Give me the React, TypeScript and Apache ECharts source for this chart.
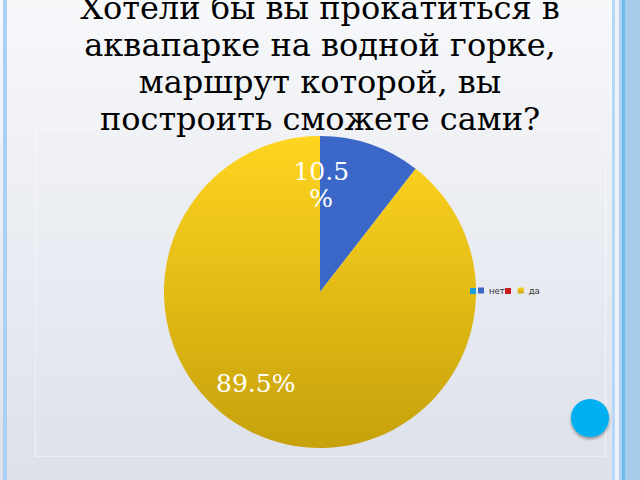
import React, { useEffect, useRef } from "react";
import * as echarts from "echarts";

const titleLines = [
  "Хотели бы вы прокатиться в",
  "аквапарке на водной горке,",
  "маршрут которой, вы",
  "построить сможете сами?",
];
const categories = ["нет", "да"];
const values = [10.5, 89.5];
const labelTexts = ["10.5\n%", "89.5%"];

export default function App() {
  const ref = useRef<HTMLDivElement>(null);
  useEffect(() => {
    if (!ref.current) return;
    const chart = echarts.init(ref.current, null, { renderer: "svg" });
    const sliceColors: any[] = [
      "#3a67c8",
      {
        type: "linear", x: 0, y: 0, x2: 0, y2: 1,
        colorStops: [
          { offset: 0, color: "#ffd520" },
          { offset: 1, color: "#c6a10b" },
        ],
      },
    ];
    const labelOffsets = [
      [-25, -30],
      [-38, 15],
    ];
    chart.setOption({
      animation: false,
      backgroundColor: {
        type: "linear", x: 0, y: 0, x2: 0, y2: 1,
        colorStops: [
          { offset: 0, color: "#f7f8fa" },
          { offset: 1, color: "#dde1eb" },
        ],
      },
      title: {
        text: titleLines.join("\n"),
        left: "center",
        top: -11,
        padding: 0,
        textStyle: {
          fontFamily: "DejaVu Serif",
          fontSize: 32,
          fontWeight: "normal",
          color: "#000",
          lineHeight: 37,
        },
      },
      legend: {
        data: categories,
        left: 478,
        top: 286,
        padding: 0,
        icon: "rect",
        itemWidth: 6,
        itemHeight: 6,
        itemGap: 13,
        textStyle: { fontSize: 8.5, color: "#333", fontFamily: "DejaVu Sans" },
      },
      graphic: [
        { type: "rect", z: 10, shape: { x: 3, y: 0, width: 4, height: 480 }, style: { fill: "#a9d1f6" }, silent: true },
        { type: "rect", z: 10, shape: { x: 612, y: 0, width: 3, height: 480 }, style: { fill: "#b5d8f6" }, silent: true },
        { type: "rect", z: 10, shape: { x: 615, y: 0, width: 4, height: 480 }, style: { fill: "#eef4fb" }, silent: true },
        { type: "rect", z: 10, shape: { x: 619, y: 0, width: 3, height: 480 }, style: { fill: "#add2f2" }, silent: true },
        { type: "rect", z: 10, shape: { x: 622, y: 0, width: 3, height: 480 }, style: { fill: "#6cbbea" }, silent: true },
        { type: "rect", z: 10, shape: { x: 625, y: 0, width: 15, height: 480 }, style: { fill: "#a7cbeb" }, silent: true },
        { type: "rect", z: 0, shape: { x: 35.5, y: 128.5, width: 570, height: 328 }, style: { fill: "none", stroke: "rgba(255,255,255,0.45)", lineWidth: 1 }, silent: true },
        { type: "rect", z: 10, shape: { x: 470, y: 288, width: 6, height: 6 }, style: { fill: "#1a9ed8" }, silent: true },
        { type: "rect", z: 10, shape: { x: 505, y: 288, width: 6, height: 6 }, style: { fill: "#c81e1e" }, silent: true },
        {
          type: "circle",
          z: 10,
          shape: { cx: 590, cy: 418, r: 19 },
          style: { fill: "#00b0f0", shadowColor: "rgba(0,0,0,0.4)", shadowBlur: 3, shadowOffsetY: 2 },
          silent: true,
        },
      ],
      series: [
        {
          type: "pie",
          center: [320, 292],
          radius: 156,
          startAngle: 90,
          clockwise: true,
          avoidLabelOverlap: false,
          itemStyle: { borderWidth: 0 },
          emphasis: { disabled: true },
          data: categories.map((name, i) => ({
            name,
            value: values[i],
            itemStyle: { color: sliceColors[i] },
            label: {
              show: true,
              position: "inside",
              formatter: labelTexts[i],
              offset: labelOffsets[i],
              color: "#fff",
              fontFamily: "DejaVu Serif",
              fontSize: 25,
              lineHeight: 27,
            },
          })),
        },
      ],
    });
    return () => chart.dispose();
  }, []);
  return (
    <div
      ref={ref}
      style={{ position: "fixed", left: 0, top: 0, width: 640, height: 480 }}
    />
  );
}
